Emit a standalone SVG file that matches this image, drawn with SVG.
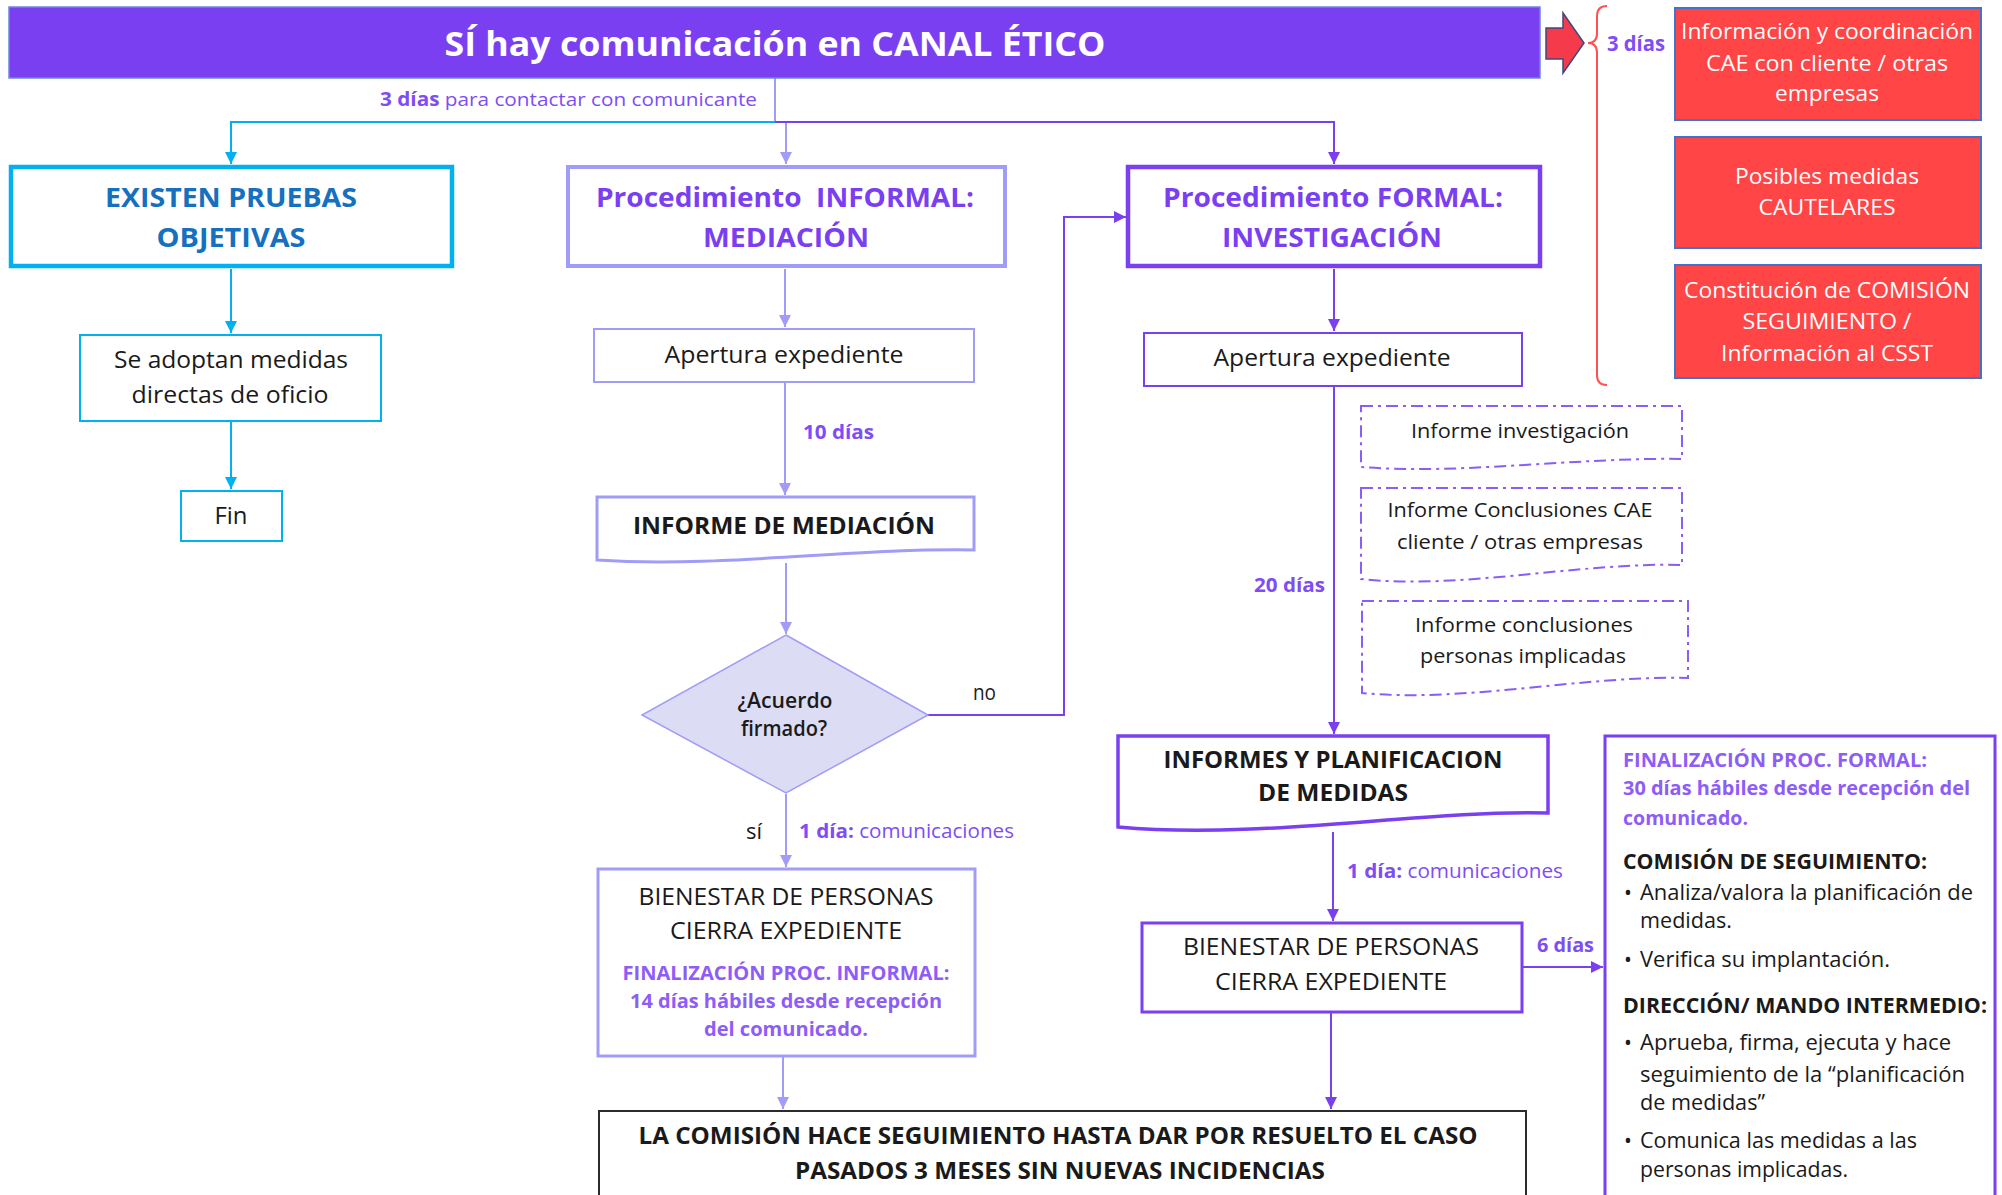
<svg xmlns="http://www.w3.org/2000/svg" width="2002" height="1195" viewBox="0 0 2002 1195">
<defs>
<style>
text{font-family:"Open Sans","Liberation Sans",sans-serif;}
.c{text-anchor:middle;}
.b{font-weight:bold;}
.sb{font-weight:600;}
.blk{fill:#1a1a1a;}
.pur{fill:#7E4DF5;}
.fin{fill:#8E5CF7;}
.wht{fill:#ffffff;}
.conn{fill:none;stroke-width:2;}
.cy{stroke:#00B0F0;}
.lv{stroke:#A09CF7;}
.pp{stroke:#7B3FF2;}
.dash{fill:#ffffff;stroke:#8B5CF6;stroke-width:2;stroke-dasharray:12 5 3 5;}
.red{fill:#FF4545;stroke:#4472C4;stroke-width:2;}
</style>
<marker id="aCy" viewBox="0 0 12 12" refX="12" refY="6" markerWidth="12" markerHeight="12" markerUnits="userSpaceOnUse" orient="auto"><path d="M0,0 L12,6 L0,12 z" fill="#00B0F0"/></marker>
<marker id="aLv" viewBox="0 0 12 12" refX="12" refY="6" markerWidth="12" markerHeight="12" markerUnits="userSpaceOnUse" orient="auto"><path d="M0,0 L12,6 L0,12 z" fill="#A09CF7"/></marker>
<marker id="aPp" viewBox="0 0 12 12" refX="12" refY="6" markerWidth="12" markerHeight="12" markerUnits="userSpaceOnUse" orient="auto"><path d="M0,0 L12,6 L0,12 z" fill="#7B3FF2"/></marker>
</defs>
<rect width="2002" height="1195" fill="#ffffff"/>

<g id="connectors">
<line class="conn lv" x1="775" y1="78" x2="775" y2="122" stroke-width="2.5"/>
<path class="conn cy" d="M775,122 H231 V164" stroke-width="3" marker-end="url(#aCy)"/>
<path class="conn pp" d="M775,122 H1334 V164" stroke-width="3" marker-end="url(#aPp)"/>
<path class="conn lv" d="M786,123 V164" marker-end="url(#aLv)"/>
<path class="conn cy" d="M231,269 V333" marker-end="url(#aCy)"/>
<path class="conn cy" d="M231,422 V489" marker-end="url(#aCy)"/>
<path class="conn lv" d="M785,269 V327" marker-end="url(#aLv)"/>
<path class="conn lv" d="M785,383 V495" marker-end="url(#aLv)"/>
<path class="conn lv" d="M786,563 V634" marker-end="url(#aLv)"/>
<path class="conn lv" d="M786,794 V867" marker-end="url(#aLv)"/>
<path class="conn lv" d="M783,1057 V1109" marker-end="url(#aLv)"/>
<path class="conn pp" d="M1334,269 V331" marker-end="url(#aPp)"/>
<path class="conn pp" d="M1334,387 V734" marker-end="url(#aPp)"/>
<path class="conn pp" d="M1333,832 V921" marker-end="url(#aPp)"/>
<path class="conn pp" d="M1331,1013 V1109" marker-end="url(#aPp)"/>
<path class="conn pp" d="M928,715 H1064 V217 H1126" marker-end="url(#aPp)"/>
<path class="conn pp" d="M1522,967 H1603" marker-end="url(#aPp)"/>
<text class="pur" x="380" y="106" font-size="19" textLength="377" lengthAdjust="spacingAndGlyphs"><tspan class="b">3 días</tspan> para contactar con comunicante</text>
<text class="pur b" x="803" y="439" font-size="20" textLength="71" lengthAdjust="spacingAndGlyphs">10 días</text>
<text class="blk" x="973" y="700" font-size="21" textLength="23" lengthAdjust="spacingAndGlyphs">no</text>
<text class="blk" x="746" y="839" font-size="21" textLength="16" lengthAdjust="spacingAndGlyphs">sí</text>
<text class="pur" x="799" y="838" font-size="20" textLength="215" lengthAdjust="spacingAndGlyphs"><tspan class="b">1 día:</tspan> comunicaciones</text>
<text class="pur b" x="1254" y="592" font-size="20" textLength="71" lengthAdjust="spacingAndGlyphs">20 días</text>
<text class="pur" x="1347" y="878" font-size="20" textLength="216" lengthAdjust="spacingAndGlyphs"><tspan class="b">1 día:</tspan> comunicaciones</text>
<text class="pur b" x="1537" y="952" font-size="20" textLength="57" lengthAdjust="spacingAndGlyphs">6 días</text>
</g>

<g id="title">
<rect x="9" y="7" width="1531" height="71" fill="#7B3FF2" stroke="#6E86E0" stroke-width="1.5"/>
<text class="c b wht" x="775" y="56" font-size="34" textLength="661" lengthAdjust="spacingAndGlyphs">SÍ hay comunicación en CANAL ÉTICO</text>
</g>

<g id="red-arrow">
<polygon points="1546,28 1563,28 1563,13 1584,43 1563,73 1563,59 1546,59" fill="#F53A4C" stroke="#3E4A7A" stroke-width="1.5"/>
</g>

<g id="brace">
<path d="M1607,6 Q1597,6 1597,16 V33 Q1597,43 1588,43 Q1597,43 1597,53 V375 Q1597,385 1607,385" fill="none" stroke="#FF5050" stroke-width="2"/>
<text class="pur b" x="1607" y="51" font-size="22" textLength="58" lengthAdjust="spacingAndGlyphs">3 días</text>
</g>

<g id="red-info">
<rect class="red" x="1675" y="8" width="306" height="112"/>
<text class="c wht" x="1827" y="39" font-size="22" textLength="292" lengthAdjust="spacingAndGlyphs">Información y coordinación</text>
<text class="c wht" x="1827" y="71" font-size="22" textLength="242" lengthAdjust="spacingAndGlyphs">CAE con cliente / otras</text>
<text class="c wht" x="1827" y="101" font-size="22" textLength="104" lengthAdjust="spacingAndGlyphs">empresas</text>
</g>
<g id="red-cautelares">
<rect class="red" x="1675" y="137" width="306" height="111"/>
<text class="c wht" x="1827" y="184" font-size="22" textLength="184" lengthAdjust="spacingAndGlyphs">Posibles medidas</text>
<text class="c wht" x="1827" y="215" font-size="22" textLength="137" lengthAdjust="spacingAndGlyphs">CAUTELARES</text>
</g>
<g id="red-comision">
<rect class="red" x="1675" y="265" width="306" height="113"/>
<text class="c wht" x="1827" y="298" font-size="22" textLength="286" lengthAdjust="spacingAndGlyphs">Constitución de COMISIÓN</text>
<text class="c wht" x="1827" y="329" font-size="22" textLength="169" lengthAdjust="spacingAndGlyphs">SEGUIMIENTO /</text>
<text class="c wht" x="1827" y="361" font-size="22" textLength="212" lengthAdjust="spacingAndGlyphs">Información al CSST</text>
</g>

<g id="existen">
<rect x="11" y="167" width="441" height="99" fill="#ffffff" stroke="#00B0F0" stroke-width="4.5"/>
<text class="c b" fill="#1570C0" x="231" y="207" font-size="26" textLength="252" lengthAdjust="spacingAndGlyphs">EXISTEN PRUEBAS</text>
<text class="c b" fill="#1570C0" x="231" y="247" font-size="26" textLength="149" lengthAdjust="spacingAndGlyphs">OBJETIVAS</text>
</g>
<g id="informal">
<rect x="568" y="167" width="437" height="99" fill="#ffffff" stroke="#A09CF7" stroke-width="4"/>
<text class="c b" fill="#7B3FF2" x="785" y="207" font-size="26" textLength="378" lengthAdjust="spacingAndGlyphs">Procedimiento&#160; INFORMAL:</text>
<text class="c b" fill="#7B3FF2" x="786" y="247" font-size="26" textLength="166" lengthAdjust="spacingAndGlyphs">MEDIACIÓN</text>
</g>
<g id="formal">
<rect x="1128" y="167" width="412" height="99" fill="#ffffff" stroke="#7B3FF2" stroke-width="4.5"/>
<text class="c b" fill="#7B3FF2" x="1333" y="207" font-size="26" textLength="340" lengthAdjust="spacingAndGlyphs">Procedimiento FORMAL:</text>
<text class="c b" fill="#7B3FF2" x="1332" y="247" font-size="26" textLength="220" lengthAdjust="spacingAndGlyphs">INVESTIGACIÓN</text>
</g>

<g id="medidas-oficio">
<rect x="80" y="335" width="301" height="86" fill="#ffffff" stroke="#00B0F0" stroke-width="2"/>
<text class="c blk" x="231" y="368" font-size="24" textLength="234" lengthAdjust="spacingAndGlyphs">Se adoptan medidas</text>
<text class="c blk" x="230" y="403" font-size="24" textLength="197" lengthAdjust="spacingAndGlyphs">directas de oficio</text>
</g>
<g id="fin">
<rect x="181" y="491" width="101" height="50" fill="#ffffff" stroke="#00B0F0" stroke-width="2"/>
<text class="c blk" x="231" y="524" font-size="24" textLength="33" lengthAdjust="spacingAndGlyphs">Fin</text>
</g>

<g id="apertura-informal">
<rect x="594" y="329" width="380" height="53" fill="#ffffff" stroke="#A09CF7" stroke-width="2"/>
<text class="c blk" x="784" y="363" font-size="24" textLength="239" lengthAdjust="spacingAndGlyphs">Apertura expediente</text>
</g>
<g id="informe-mediacion">
<path d="M597,497 H974 V550 C850,548 720,568 597,560 Z" fill="#ffffff" stroke="#A09CF7" stroke-width="3"/>
<text class="c b blk" x="784" y="534" font-size="24" textLength="302" lengthAdjust="spacingAndGlyphs">INFORME DE MEDIACIÓN</text>
</g>
<g id="acuerdo">
<polygon points="786,635 928,715 786,793 642,715" fill="#DCDCF5" stroke="#A09CF7" stroke-width="1.5"/>
<text class="c sb blk" x="785" y="708" font-size="22" textLength="95" lengthAdjust="spacingAndGlyphs">¿Acuerdo</text>
<text class="c sb blk" x="784" y="736" font-size="22" textLength="86" lengthAdjust="spacingAndGlyphs">firmado?</text>
</g>
<g id="cierre-informal">
<rect x="598" y="869" width="377" height="187" fill="#ffffff" stroke="#A09CF7" stroke-width="3"/>
<text class="c blk" x="786" y="905" font-size="24" textLength="295" lengthAdjust="spacingAndGlyphs">BIENESTAR DE PERSONAS</text>
<text class="c blk" x="786" y="939" font-size="24" textLength="232" lengthAdjust="spacingAndGlyphs">CIERRA EXPEDIENTE</text>
<text class="c b fin" x="786" y="980" font-size="20" textLength="327" lengthAdjust="spacingAndGlyphs">FINALIZACIÓN PROC. INFORMAL:</text>
<text class="c b fin" x="786" y="1008" font-size="20" textLength="312" lengthAdjust="spacingAndGlyphs">14 días hábiles desde recepción</text>
<text class="c b fin" x="786" y="1036" font-size="20" textLength="164" lengthAdjust="spacingAndGlyphs">del comunicado.</text>
</g>

<g id="apertura-formal">
<rect x="1144" y="333" width="378" height="53" fill="#ffffff" stroke="#7B3FF2" stroke-width="2"/>
<text class="c blk" x="1332" y="366" font-size="24" textLength="237" lengthAdjust="spacingAndGlyphs">Apertura expediente</text>
</g>
<g id="informe-investigacion">
<path class="dash" d="M1361,406 H1682 V459 C1580,457 1460,475 1361,467 Z"/>
<text class="c blk" x="1520" y="438" font-size="20" textLength="218" lengthAdjust="spacingAndGlyphs">Informe investigación</text>
</g>
<g id="informe-cae">
<path class="dash" d="M1361,488 H1682 V565 C1580,562 1460,590 1361,579 Z"/>
<text class="c blk" x="1520" y="517" font-size="20" textLength="265" lengthAdjust="spacingAndGlyphs">Informe Conclusiones CAE</text>
<text class="c blk" x="1520" y="549" font-size="20" textLength="246" lengthAdjust="spacingAndGlyphs">cliente / otras empresas</text>
</g>
<g id="informe-personas">
<path class="dash" d="M1362,601 H1688 V678 C1585,675 1465,703 1362,693 Z"/>
<text class="c blk" x="1524" y="632" font-size="20" textLength="218" lengthAdjust="spacingAndGlyphs">Informe conclusiones</text>
<text class="c blk" x="1523" y="663" font-size="20" textLength="206" lengthAdjust="spacingAndGlyphs">personas implicadas</text>
</g>
<g id="informes-planificacion">
<path d="M1118,736 H1548 V813 C1420,810 1260,840 1118,827 Z" fill="#ffffff" stroke="#7B3FF2" stroke-width="3.5"/>
<text class="c b blk" x="1333" y="768" font-size="23" textLength="339" lengthAdjust="spacingAndGlyphs">INFORMES Y PLANIFICACION</text>
<text class="c b blk" x="1333" y="801" font-size="23" textLength="150" lengthAdjust="spacingAndGlyphs">DE MEDIDAS</text>
</g>
<g id="cierre-formal">
<rect x="1142" y="923" width="380" height="89" fill="#ffffff" stroke="#7B3FF2" stroke-width="3"/>
<text class="c blk" x="1331" y="955" font-size="24" textLength="296" lengthAdjust="spacingAndGlyphs">BIENESTAR DE PERSONAS</text>
<text class="c blk" x="1331" y="990" font-size="24" textLength="232" lengthAdjust="spacingAndGlyphs">CIERRA EXPEDIENTE</text>
</g>

<g id="seguimiento">
<rect x="599" y="1111" width="927" height="100" fill="#ffffff" stroke="#2B2B2B" stroke-width="2"/>
<text class="c b blk" x="1058" y="1144" font-size="23" textLength="839" lengthAdjust="spacingAndGlyphs">LA COMISIÓN HACE SEGUIMIENTO HASTA DAR POR RESUELTO EL CASO</text>
<text class="c b blk" x="1060" y="1179" font-size="23" textLength="530" lengthAdjust="spacingAndGlyphs">PASADOS 3 MESES SIN NUEVAS INCIDENCIAS</text>
</g>

<g id="finalizacion-formal">
<rect x="1605" y="736" width="390" height="480" fill="#ffffff" stroke="#7B3FF2" stroke-width="3"/>
<text class="b fin" x="1623" y="767" font-size="20" textLength="304" lengthAdjust="spacingAndGlyphs">FINALIZACIÓN PROC. FORMAL:</text>
<text class="b fin" x="1623" y="795" font-size="20" textLength="347" lengthAdjust="spacingAndGlyphs">30 días hábiles desde recepción del</text>
<text class="b fin" x="1623" y="825" font-size="20" textLength="125" lengthAdjust="spacingAndGlyphs">comunicado.</text>
<text class="b blk" x="1623" y="869" font-size="21" textLength="304" lengthAdjust="spacingAndGlyphs">COMISIÓN DE SEGUIMIENTO:</text>
<text class="blk" x="1624" y="900" font-size="21">•</text>
<text class="blk" x="1640" y="900" font-size="21" textLength="333" lengthAdjust="spacingAndGlyphs">Analiza/valora la planificación de</text>
<text class="blk" x="1640" y="928" font-size="21" textLength="92" lengthAdjust="spacingAndGlyphs">medidas.</text>
<text class="blk" x="1624" y="967" font-size="21">•</text>
<text class="blk" x="1640" y="967" font-size="21" textLength="250" lengthAdjust="spacingAndGlyphs">Verifica su implantación.</text>
<text class="b blk" x="1623" y="1013" font-size="21" textLength="364" lengthAdjust="spacingAndGlyphs">DIRECCIÓN/ MANDO INTERMEDIO:</text>
<text class="blk" x="1624" y="1050" font-size="21">•</text>
<text class="blk" x="1640" y="1050" font-size="21" textLength="311" lengthAdjust="spacingAndGlyphs">Aprueba, firma, ejecuta y hace</text>
<text class="blk" x="1640" y="1082" font-size="21" textLength="325" lengthAdjust="spacingAndGlyphs">seguimiento de la “planificación</text>
<text class="blk" x="1640" y="1110" font-size="21" textLength="125" lengthAdjust="spacingAndGlyphs">de medidas”</text>
<text class="blk" x="1624" y="1148" font-size="21">•</text>
<text class="blk" x="1640" y="1148" font-size="21" textLength="277" lengthAdjust="spacingAndGlyphs">Comunica las medidas a las</text>
<text class="blk" x="1640" y="1177" font-size="21" textLength="208" lengthAdjust="spacingAndGlyphs">personas implicadas.</text>
</g>
</svg>
